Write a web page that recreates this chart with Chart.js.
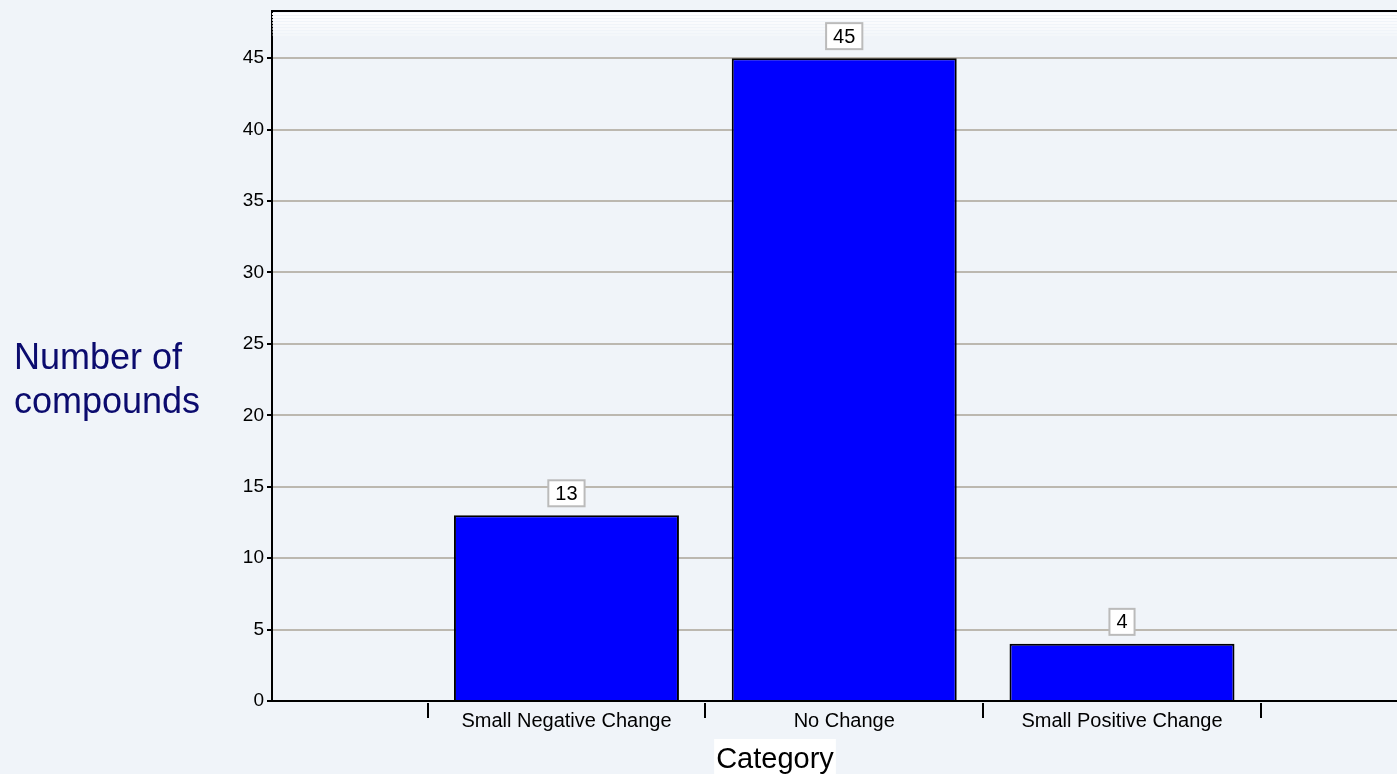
<!DOCTYPE html>
<html>
<head>
<meta charset="utf-8">
<script src="https://cdn.jsdelivr.net/npm/chart.js@4.4.1/dist/chart.umd.min.js"></script>
<style>
  html, body { margin: 0; padding: 0; background: #f0f4f9; overflow: hidden; }
</style>
</head>
<body>
<canvas id="compoundsChart" width="1397" height="774"></canvas>
<script>
const compoundsChart = document.getElementById("compoundsChart");

// Data
const categories = ["Small Negative Change", "No Change", "Small Positive Change"];
const categoryPositions = [1, 2, 3];
const compoundCounts = [13, 45, 4];
const yTickValues = [0, 5, 10, 15, 20, 25, 30, 35, 40, 45];
const separatorPositions = [0.5, 1.5, 2.5, 3.5];

const fontFamily = "'Liberation Sans', Arial, sans-serif";
const gridColor = "#bcb8b0";

// Frame, top shading, separators and axis titles
const framePlugin = {
  id: "frame",
  beforeDatasetsDraw(chart) {
    const { ctx, chartArea } = chart;
    ctx.save();
    // thin light stripes under the top border
    for (let i = 0; i < 8; i++) {
      ctx.fillStyle = "rgba(255,255,255," + (0.95 - i * 0.1) + ")";
      ctx.fillRect(chartArea.left, chartArea.top + 2 + i * 3, chartArea.right - chartArea.left, 2);
    }
    ctx.restore();
  },
  afterDraw(chart) {
    const { ctx, chartArea } = chart;
    const xScale = chart.scales.x;
    ctx.save();
    ctx.strokeStyle = "#000";
    ctx.lineWidth = 2;
    ctx.beginPath();
    ctx.moveTo(chartArea.left - 1, chartArea.top);
    ctx.lineTo(chartArea.right, chartArea.top);
    ctx.stroke();

    separatorPositions.forEach((v) => {
      const x = Math.round(xScale.getPixelForValue(v));
      ctx.beginPath();
      ctx.moveTo(x, chartArea.bottom + 2);
      ctx.lineTo(x, chartArea.bottom + 17);
      ctx.stroke();
    });

    // y title
    ctx.fillStyle = "#0b0b6e";
    ctx.font = "36px " + fontFamily;
    ctx.textAlign = "left";
    ctx.textBaseline = "alphabetic";
    ctx.fillText("Number of", 14, 369);
    ctx.fillText("compounds", 14, 413);

    // x title
    ctx.font = "29px " + fontFamily;
    const w = ctx.measureText("Category").width;
    const cx = 775;
    ctx.fillStyle = "#fff";
    ctx.fillRect(cx - w / 2 - 2, 739, w + 4, 40);
    ctx.fillStyle = "#000";
    ctx.textAlign = "center";
    ctx.fillText("Category", cx, 768);
    ctx.restore();
  },
};

// Value boxes above bars
const valueBoxPlugin = {
  id: "valueBoxes",
  afterDatasetsDraw(chart) {
    const { ctx } = chart;
    const meta = chart.getDatasetMeta(0);
    ctx.save();
    ctx.font = "20px " + fontFamily;
    ctx.textAlign = "center";
    ctx.textBaseline = "middle";
    meta.data.forEach((bar, i) => {
      const text = String(compoundCounts[i]);
      const w = ctx.measureText(text).width + 14;
      const h = 26;
      const bottom = bar.y - 9;
      ctx.fillStyle = "#fff";
      ctx.fillRect(bar.x - w / 2, bottom - h, w, h);
      ctx.strokeStyle = "#bbbbbb";
      ctx.lineWidth = 2;
      ctx.strokeRect(bar.x - w / 2, bottom - h, w, h);
      ctx.fillStyle = "#000";
      ctx.fillText(text, bar.x, bottom - h / 2 + 1);
    });
    ctx.restore();
  },
};

const dataCompounds = {
  datasets: [
    {
      label: "Number of compounds",
      data: categoryPositions.map((x, i) => ({ x: x, y: compoundCounts[i] })),
      backgroundColor: "#0000ff",
      borderColor: "#000",
      borderWidth: 2,
      categoryPercentage: 1,
      barPercentage: 0.81,
    },
  ],
};

const configCompounds = {
  type: "bar",
  data: dataCompounds,
  options: {
    responsive: false,
    animation: false,
    layout: { padding: { top: 11, right: 0, bottom: 0, left: 0 } },
    plugins: {
      legend: { display: false },
      tooltip: { enabled: false },
    },
    scales: {
      x: {
        type: "linear",
        offset: false,
        min: -0.06,
        max: 3.99,
        afterBuildTicks: (scale) => {
          scale.ticks = categoryPositions.map((v) => ({ value: v }));
        },
        afterFit: (scale) => {
          scale.height = 73;
          scale.paddingLeft = 0;
          scale.paddingRight = 0;
        },
        ticks: {
          callback: (value) => categories[categoryPositions.indexOf(value)] || "",
          autoSkip: false,
          maxRotation: 0,
          color: "#000",
          font: { family: fontFamily, size: 20 },
          padding: 8,
        },
        grid: { display: false, drawTicks: false, offset: false },
        border: { color: "#000", width: 2 },
      },
      y: {
        min: 0,
        max: 48.3,
        afterBuildTicks: (scale) => {
          scale.ticks = yTickValues.map((v) => ({ value: v }));
        },
        afterFit: (scale) => {
          scale.width = 272;
          scale.paddingTop = 0;
          scale.paddingBottom = 0;
        },
        ticks: {
          color: "#000",
          font: { family: fontFamily, size: 19 },
          padding: 3,
        },
        grid: {
          color: (ctx) => (ctx.tick && ctx.tick.value === 0 ? "rgba(0,0,0,0)" : gridColor),
          lineWidth: 2,
          tickColor: "#000",
          tickLength: 5,
          tickWidth: 2,
        },
        border: { color: "#000", width: 2 },
      },
    },
  },
  plugins: [framePlugin, valueBoxPlugin],
};

new Chart(compoundsChart, configCompounds);
</script>
</body>
</html>
